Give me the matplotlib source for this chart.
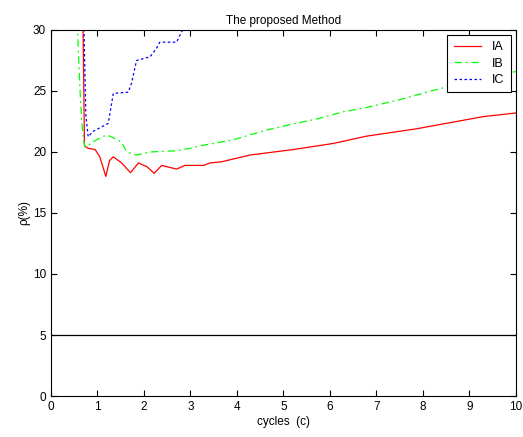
import matplotlib
matplotlib.use('Agg')
import matplotlib.pyplot as plt

plt.rcParams['font.family'] = ['Liberation Sans', 'DejaVu Sans']

# series IA (red, solid)
ia_x = [0.68, 0.69, 0.72, 0.80, 0.95, 1.05, 1.18, 1.26, 1.34, 1.52, 1.71, 1.88, 2.06, 2.22, 2.38,
        2.70, 2.88, 3.28, 3.42, 3.67, 4.28, 5.21, 6.07, 6.79, 7.86, 8.29, 9.30, 10.0]
ia_y = [40.0, 30.0, 20.5, 20.3, 20.2, 19.6, 18.0, 19.3, 19.6, 19.1, 18.3, 19.1, 18.8, 18.25, 18.9,
        18.6, 18.9, 18.9, 19.1, 19.2, 19.75, 20.2, 20.7, 21.3, 21.9, 22.2, 22.9, 23.2]

# series IB (green, dash-dot)
ib_x = [0.55, 0.57, 0.62, 0.66, 0.70, 0.73, 0.98, 1.20, 1.38, 1.52, 1.63, 1.84, 2.13, 2.70, 2.99,
        3.20, 3.92, 4.64, 5.21, 5.71, 6.29, 6.79, 7.51, 8.08, 8.37, 9.2, 10.0]
ib_y = [32.0, 30.0, 25.4, 22.6, 21.0, 20.4, 21.0, 21.4, 21.1, 20.8, 20.0, 19.75, 20.0, 20.1, 20.3,
        20.5, 21.0, 21.8, 22.3, 22.7, 23.3, 23.65, 24.3, 24.9, 25.2, 25.9, 26.6]

# series IC (blue, dotted)
ic_x = [0.70, 0.71, 0.75, 0.80, 0.91, 1.16, 1.23, 1.27, 1.34, 1.66, 1.73, 1.84, 2.13, 2.27, 2.34,
        2.70, 2.83, 2.95]
ic_y = [40.0, 30.0, 23.0, 21.25, 21.7, 22.2, 22.35, 23.2, 24.8, 24.9, 25.6, 27.5, 27.8, 28.5, 29.0,
        29.0, 30.0, 31.0]

ref_level = 5

fig = plt.figure(figsize=(5.23, 4.37), dpi=100)
ax = fig.add_axes([0.0975, 0.0938, 0.8891, 0.8376])

ax.plot(ia_x, ia_y, color='#ff0000', lw=0.9, label='IA')
ax.plot(ib_x, ib_y, color='#00ff00', lw=0.9, linestyle=(0, (6, 3, 1.5, 3)), label='IB')
ax.plot(ic_x, ic_y, color='#0000ff', lw=0.9, linestyle=(0, (2, 2)), label='IC')
ax.axhline(ref_level, color='black', lw=0.9)

ax.set_xlim(0, 10)
ax.set_ylim(0, 30)
ax.set_xticks(range(0, 11))
ax.set_yticks(range(0, 31, 5))
ax.tick_params(direction='in', top=True, right=True, labelsize=8.5, length=4)
for s in ax.spines.values():
    s.set_linewidth(0.8)

ax.set_title('The proposed Method', fontsize=8.5, pad=4)
ax.set_xlabel('cycles  (c)', fontsize=8.5, labelpad=2)
ax.set_ylabel('ρ(%)', fontsize=8.5, labelpad=2)

leg = ax.legend(loc='upper right', fontsize=9, fancybox=False, framealpha=1,
                edgecolor='black', handlelength=2.2, handletextpad=0.9,
                borderpad=0.5, labelspacing=0.35, borderaxespad=0.4)
leg.get_frame().set_linewidth(0.8)

fig.savefig('out.png', dpi=100)
